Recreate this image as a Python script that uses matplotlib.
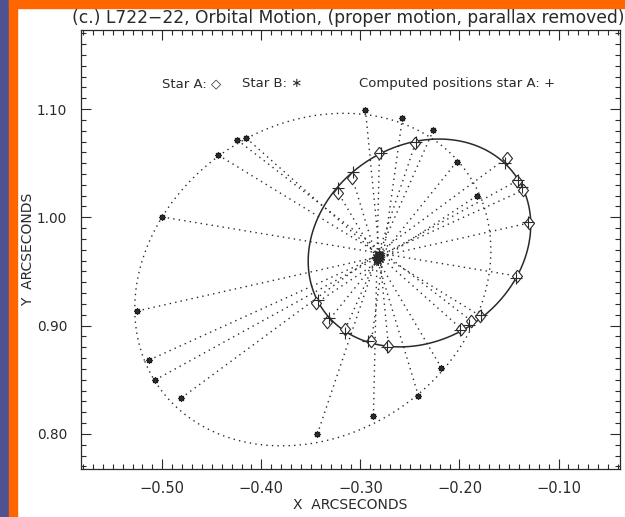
import numpy as np
import matplotlib.pyplot as plt
from matplotlib.patches import Rectangle
from matplotlib.ticker import MultipleLocator, FuncFormatter

# Star A: measured positions (arcsec), one per epoch
a_x = [-0.3222, -0.3081, -0.2808, -0.2444, -0.1525, -0.1424, -0.1354, -0.1303, -0.1424,
       -0.1788, -0.1879, -0.1980, -0.2717, -0.2889, -0.3152, -0.3333, -0.3444]
a_y = [1.0224, 1.0363, 1.0594, 1.0686, 1.0548, 1.0335, 1.0252, 0.9947, 0.9458,
       0.9089, 0.9042, 0.8969, 0.8812, 0.8858, 0.8969, 0.9033, 0.9209]

# Star B: measured positions, same epochs
b_x = [-0.2182, -0.2414, -0.2869, -0.3434, -0.4808, -0.5071, -0.5131, -0.5253, -0.5000,
       -0.4434, -0.4242, -0.4152, -0.2949, -0.2576, -0.2263, -0.2030, -0.1828]
b_y = [0.8609, 0.8350, 0.8165, 0.7999, 0.8331, 0.8498, 0.8682, 0.9135, 1.0003,
       1.0575, 1.0714, 1.0732, 1.0991, 1.0917, 1.0806, 1.0511, 1.0197]

# Star A: positions computed from the orbit
c_x = [-0.3222, -0.3071, -0.2788, -0.2434, -0.1545, -0.1414, -0.1374, -0.1313, -0.1434,
       -0.1778, -0.1909, -0.1990, -0.2727, -0.2919, -0.3152, -0.3313, -0.3424]
c_y = [1.0271, 1.0418, 1.0594, 1.0695, 1.0501, 1.0344, 1.0280, 0.9957, 0.9440,
       0.9098, 0.9006, 0.8959, 0.8802, 0.8858, 0.8932, 0.9070, 0.9236]

# centre of mass at each epoch
cm_x = [-0.2825, -0.2810, -0.2830, -0.2805, -0.2820, -0.2840, -0.2800, -0.2815, -0.2835]
cm_y = [0.9640, 0.9625, 0.9610, 0.9650, 0.9600, 0.9635, 0.9615, 0.9660, 0.9620]

# orbit of A, and B's orbit from the mass ratio
orbit_center = (-0.2404, 0.9763)
orbit_axes = (0.116, 0.0915)
orbit_angle = 24.0
center_of_mass = (-0.2818, 0.9633)
mass_ratio = 1.6

ink = '#2a2a2a'
plt.rcParams['font.family'] = 'DejaVu Sans'

fig = plt.figure(figsize=(6.25, 5.17), dpi=100)
fig.patch.set_facecolor('white')
fig.patches.append(Rectangle((0, 0), 9 / 625, 1, transform=fig.transFigure,
                             color='#4f5190', zorder=-2))
fig.patches.append(Rectangle((9 / 625, 0), 8 / 625, 1, transform=fig.transFigure,
                             color='#ff6600', zorder=-2))
fig.patches.append(Rectangle((9 / 625, 1 - 8 / 517), 1, 8 / 517, transform=fig.transFigure,
                             color='#ff6600', zorder=-2))

ax = fig.add_axes([81 / 625, 48.5 / 517, 539 / 625, 438.5 / 517])

# orbit curves
t = np.linspace(0, 2 * np.pi, 600)
ang = np.radians(orbit_angle)
ex = orbit_axes[0] * np.cos(t) * np.cos(ang) - orbit_axes[1] * np.sin(t) * np.sin(ang)
ey = orbit_axes[0] * np.cos(t) * np.sin(ang) + orbit_axes[1] * np.sin(t) * np.cos(ang)
ax_orb = orbit_center[0] + ex
ay_orb = orbit_center[1] + ey
bx_orb = center_of_mass[0] - mass_ratio * (ax_orb - center_of_mass[0])
by_orb = center_of_mass[1] - mass_ratio * (ay_orb - center_of_mass[1])

dots = (0, (1, 3))
ax.plot(ax_orb, ay_orb, color=ink, lw=1.1)
ax.plot(bx_orb, by_orb, color=ink, lw=1.0, ls=dots)

# lines joining A and B at each epoch
for i in range(len(a_x)):
    ax.plot([b_x[i], a_x[i]], [b_y[i], a_y[i]], color=ink, lw=1.0, ls=dots)

diamond = [(0, 1), (0.8, 0), (0, -1), (-0.8, 0), (0, 1)]
ax.plot(a_x, a_y, ls='none', marker=diamond, ms=9, mfc='white', mec=ink, mew=0.8, zorder=3)
ax.plot(c_x, c_y, ls='none', marker='+', ms=8, mec=ink, mew=0.8, zorder=4)
ax.plot(b_x, b_y, ls='none', marker='s', ms=3.2, mfc='black', mec='black', zorder=3)
ax.plot(b_x, b_y, ls='none', marker=(8, 2, 0), ms=4.5, mec=ink, mew=0.7, zorder=3)
ax.plot(cm_x, cm_y, ls='none', marker=(8, 2, 0), ms=6, mec=ink, mew=0.8, zorder=3)

ax.set_xlim(-0.582, -0.038)
ax.set_ylim(0.768, 1.173)
fmt = FuncFormatter(lambda v, p: f'{v:.2f}'.replace('-', '\u2212'))
ax.xaxis.set_major_locator(MultipleLocator(0.10))
ax.xaxis.set_minor_locator(MultipleLocator(0.01))
ax.yaxis.set_major_locator(MultipleLocator(0.10))
ax.yaxis.set_minor_locator(MultipleLocator(0.01))
ax.xaxis.set_major_formatter(fmt)
ax.yaxis.set_major_formatter(fmt)
ax.tick_params(which='both', direction='in', top=True, right=True, colors=ink, width=0.8)
ax.tick_params(which='major', length=7)
ax.tick_params(which='minor', length=3.5)
ax.tick_params(axis='x', which='major', pad=9, labelsize=10.5)
ax.tick_params(axis='y', which='major', pad=10, labelsize=9.8)
for s in ax.spines.values():
    s.set_color(ink)
    s.set_linewidth(0.9)

ax.set_xlabel('X  ARCSECONDS', fontsize=10, color=ink, va='center')
ax.set_ylabel('Y  ARCSECONDS', fontsize=10, color=ink, va='center')
ax.xaxis.set_label_coords(0.5, -36.5 / 438.5)
ax.yaxis.set_label_coords(-53 / 539, 0.5)

fig.text(0.557, 0.965, '(c.) L722\u221222, Orbital Motion, (proper motion, parallax removed)',
         ha='center', va='center', fontsize=12.3, color=ink)

ax.text(0.150, 0.877, 'Star A: \u25c7', transform=ax.transAxes, fontsize=9.5,
        color=ink, va='center')
ax.text(0.299, 0.877, 'Star B: \u2217', transform=ax.transAxes, fontsize=9.5,
        color=ink, va='center')
ax.text(0.516, 0.877, 'Computed positions star A: +', transform=ax.transAxes,
        fontsize=9.5, color=ink, va='center')

fig.savefig('out.png', dpi=100)
